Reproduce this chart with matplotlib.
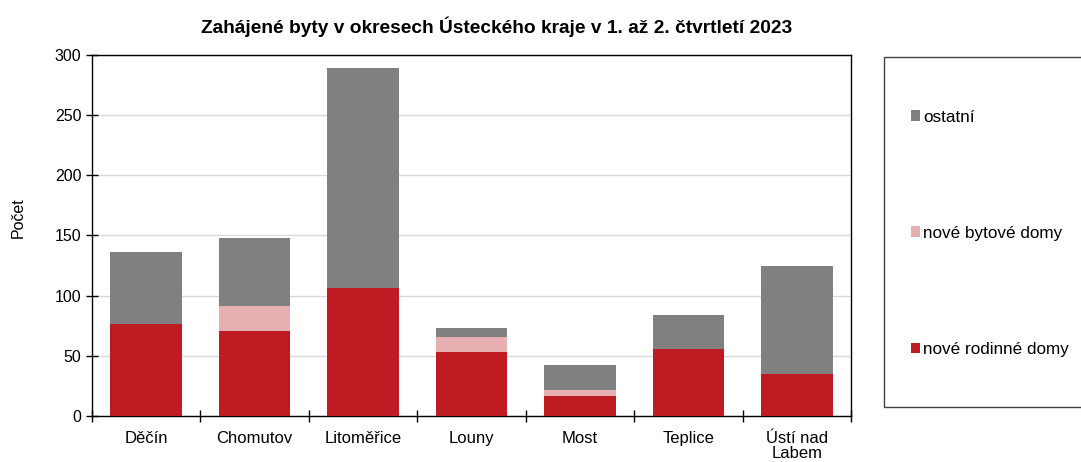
import numpy as np
import matplotlib.pyplot as plt
from matplotlib.patches import Rectangle

plt.rcParams['font.family'] = ['Liberation Sans', 'DejaVu Sans']

# data
okresy = ["Děčín", "Chomutov", "Litoměřice", "Louny", "Most", "Teplice", "Ústí nad\nLabem"]
rodinne = np.array([76, 71, 106, 53, 17, 56, 35])
bytove = np.array([0, 20, 0, 13, 5, 0, 0])
ostatni = np.array([60, 57, 183, 7, 20, 28, 90])

c_rod = "#BE1B22"
c_byt = "#E6AFB2"
c_ost = "#808080"

fig = plt.figure(figsize=(10.81, 4.62), dpi=100)
ax = fig.add_axes([0.0851, 0.0996, 0.7022, 0.7817])

x = np.arange(len(okresy))
w = 0.66
b1 = ax.bar(x, rodinne, w, color=c_rod, label="nové rodinné domy", zorder=3)
b2 = ax.bar(x, bytove, w, bottom=rodinne, color=c_byt, label="nové bytové domy", zorder=3)
b3 = ax.bar(x, ostatni, w, bottom=rodinne + bytove, color=c_ost, label="ostatní", zorder=3)

ax.set_xlim(-0.5, len(okresy) - 0.5)
ax.set_ylim(0, 300)
ax.set_yticks(np.arange(0, 301, 50))
ax.yaxis.grid(True, color="#D9D9D9", linewidth=1, zorder=0)

ax.set_xticks(x)
ax.set_xticklabels(okresy, fontsize=12, linespacing=1.0)
ax.set_xticks(np.arange(-0.5, len(okresy), 1), minor=True)
ax.tick_params(axis="x", which="major", length=0, pad=11)
ax.tick_params(axis="x", which="minor", direction="inout", length=8, width=1)
ax.tick_params(axis="y", direction="inout", length=8, width=1, labelsize=11.5)
for s in ax.spines.values():
    s.set_linewidth(1)
    s.set_color("black")

ax.set_ylabel("Počet", fontsize=11.5)
ax.yaxis.set_label_coords(-0.087, 0.548)
fig.text(497 / 1081, 1 - 27 / 462,
         "Zahájené byty v okresech Ústeckého kraje v 1. až 2. čtvrtletí 2023",
         fontsize=13.8, fontweight="bold", ha="center", va="center")

# legend box
fig.patches.append(Rectangle((884 / 1081, 1 - 407 / 462), 0.2, 350 / 462,
                             transform=fig.transFigure, facecolor="white",
                             edgecolor="#404040", linewidth=1))
fig.legend(handles=[b3, b2, b1], loc="upper left",
           bbox_to_anchor=(902 / 1081, 1 - 101 / 462), frameon=False,
           fontsize=12.3, handlelength=0.55, handleheight=0.55,
           handletextpad=0.2, labelspacing=5.92, borderpad=0)

fig.savefig("out.png", dpi=100)
